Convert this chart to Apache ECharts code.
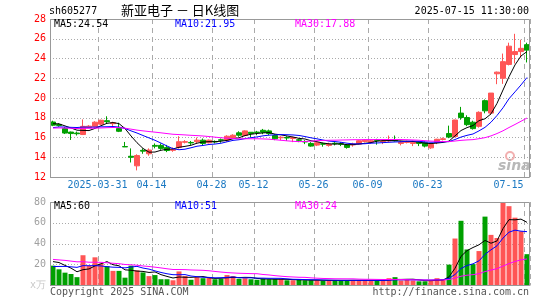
<!DOCTYPE html>
<html><head><meta charset="utf-8">
<script src="https://cdn.jsdelivr.net/npm/echarts@6/dist/echarts.min.js"></script>
<style>html,body{margin:0;padding:0;background:#fff}#c{width:545px;height:300px}</style>
</head><body><div id="c"></div>
<script>
// ---- data ----
const dates = ['2025-03-19','2025-03-20','2025-03-21','2025-03-24','2025-03-25','2025-03-26','2025-03-27','2025-03-28','2025-03-31','2025-04-01',
'2025-04-02','2025-04-03','2025-04-07','2025-04-08','2025-04-09','2025-04-10','2025-04-11','2025-04-14','2025-04-15','2025-04-16',
'2025-04-17','2025-04-18','2025-04-21','2025-04-22','2025-04-23','2025-04-24','2025-04-25','2025-04-28','2025-04-29','2025-04-30',
'2025-05-06','2025-05-07','2025-05-08','2025-05-09','2025-05-12','2025-05-13','2025-05-14','2025-05-15','2025-05-16','2025-05-19',
'2025-05-20','2025-05-21','2025-05-22','2025-05-23','2025-05-26','2025-05-27','2025-05-28','2025-05-29','2025-05-30','2025-06-03',
'2025-06-04','2025-06-05','2025-06-06','2025-06-09','2025-06-10','2025-06-11','2025-06-12','2025-06-13','2025-06-16','2025-06-17',
'2025-06-18','2025-06-19','2025-06-20','2025-06-23','2025-06-24','2025-06-25','2025-06-26','2025-06-27','2025-06-30','2025-07-01',
'2025-07-02','2025-07-03','2025-07-04','2025-07-07','2025-07-08','2025-07-09','2025-07-10','2025-07-11','2025-07-14','2025-07-15'];

const openP = [17.57,17.32,16.9,16.55,16.45,16.3,17.0,17.1,17.35,17.7,
17.4,16.9,15.08,14.1,13.13,14.7,14.35,15.2,15.2,15.0,
14.7,15.0,15.52,15.5,15.57,15.73,15.47,15.6,15.77,15.73,
16.0,16.47,16.2,16.53,16.55,16.73,16.67,16.2,15.97,16.0,
15.9,15.77,15.6,15.4,15.23,15.37,15.2,15.42,15.37,15.23,
15.25,15.33,15.6,15.53,15.75,15.6,15.65,15.72,15.4,15.5,
15.4,15.53,15.47,14.95,15.5,15.8,16.4,16.1,18.47,18.02,
17.55,17.13,19.73,18.47,22.45,22.0,23.4,24.4,24.7,25.4];

const closeP = [17.25,17.22,16.45,16.4,16.38,17.13,17.15,17.55,17.75,17.6,
17.5,16.63,15.05,14.0,14.17,14.62,14.73,15.12,14.9,14.68,
14.78,15.57,15.58,15.45,15.73,15.4,15.73,15.55,15.72,16.13,
16.23,16.23,16.67,16.4,16.5,16.53,16.4,15.87,16.03,15.95,
16.0,15.72,15.55,15.13,15.47,15.32,15.33,15.38,15.32,15.0,
15.35,15.67,15.73,15.67,15.7,15.65,15.7,15.67,15.53,15.55,
15.53,15.4,15.13,15.3,15.82,15.87,16.05,17.77,18.02,17.3,
16.9,18.55,18.7,20.5,22.62,23.68,25.25,24.7,25.03,24.85];

const lowP = [17.15,17.1,16.35,15.75,16.2,16.25,16.95,17.0,17.25,17.4,
17.1,16.55,15.05,13.47,12.67,14.35,14.15,14.9,14.75,14.52,
14.55,14.87,15.4,15.25,15.4,15.17,15.4,15.4,15.47,15.57,
15.9,16.07,16.13,16.0,16.23,16.33,16.23,15.73,15.73,15.67,
15.53,15.53,15.33,15.07,15.13,15.07,15.07,15.2,15.13,14.87,
15.07,15.27,15.5,15.4,15.27,15.33,15.53,15.6,15.2,15.4,
15.13,15.13,15.0,14.85,15.33,15.7,15.93,16.0,17.8,17.15,
16.8,17.0,18.45,18.3,21.4,21.43,23.3,23.5,24.1,23.6];

const highP = [17.7,17.45,17.05,16.6,16.6,17.83,17.25,17.65,17.8,18.15,
17.6,17.5,15.55,14.9,14.3,14.9,14.9,15.4,15.4,15.25,
15.0,16.13,15.73,15.65,16.0,15.9,15.8,15.7,15.9,16.23,
16.33,16.63,16.73,16.53,16.67,16.87,16.8,16.33,16.13,16.13,
16.07,15.87,15.73,15.53,15.6,15.47,15.47,15.53,15.53,15.33,
15.47,15.73,15.8,15.8,15.87,15.77,16.2,16.2,15.67,15.67,
15.67,15.6,15.6,15.4,15.87,16.0,17.2,17.8,19.1,18.25,
17.7,18.65,19.85,20.5,22.67,24.5,25.6,26.5,25.9,25.6];

// volume, unit: 万手
const volume = [19,15.5,12.3,11,8,29,19,27,21,18.5,
14,14,7.5,19,14.5,12.5,9,10,6,6,
5,13.5,9,5.5,8,7,7.5,6,6.5,10,
9,6.5,7,6,5.5,6.5,6,6,6,5,
5,5.5,5,5,5,4.5,5,5,5,5,
5,5,5,4.8,4.8,4.5,7,8,4.8,5.5,
4.8,4,4,5,7,5.5,20,45,62,34.5,
20.5,33,66,48.5,45.5,79.5,76,65,52,30];

// estimated closes / volumes of the 29 sessions before the window (only feed the moving averages)
const priorClose = [16.8,16.9,17.1,17.0,16.7,16.9,17.2,17.1,16.8,16.9,17.0,16.8,16.9,17.1,16.9,16.8,17.0,16.9,16.95,16.9,16.5,16.6,16.7,16.55,16.65,17.3,17.5,17.45,17.5];
const priorVolume = [30,26,32,28,25,35,27,24,30,29,26,31,28,27,33,25,29,28,30,26,14,12,15,13,12.5,20,26,24,25.5];

const tickDates = ['2025-03-31','2025-04-14','2025-04-28','2025-05-12','2025-05-26','2025-06-09','2025-06-23','2025-07-15'];
const tickLabels = ['2025-03-31','04-14','04-28','05-12','05-26','06-09','06-23','07-15'];
const priceTicks = [12,14,16,18,20,22,24,26,28];
const volumeTicks = [0,20,40,60,80];
const priceMALegend = ['MA5:24.54','MA10:21.95','MA30:17.88'];
const volumeMALegend = ['MA5:60','MA10:51','MA30:24'];

// ---- helpers ----
function movingAvg(vals, prior, n){
  const all = prior.concat(vals);
  return vals.map(function(_, i){
    const end = prior.length + i; let s = 0;
    for (let k = end - n + 1; k <= end; k++) s += all[k];
    return +(s / n).toFixed(3);
  });
}
const UP = '#ff5555', DOWN = '#00a000';
const MONO = 'DejaVu Sans Mono';
const candles = dates.map(function(_, i){ return [openP[i], closeP[i], lowP[i], highP[i]]; });
const volBars = volume.map(function(v, i){ return {value: v, itemStyle: {color: closeP[i] >= openP[i] ? UP : DOWN}}; });
const tickIdx = new Set(tickDates.map(function(d){ return dates.indexOf(d); }));
const lastTick = dates.indexOf(tickDates[tickDates.length - 1]);
const labelOf = {}; tickDates.forEach(function(d, k){ labelOf[d] = tickLabels[k]; });

const chart = echarts.init(document.getElementById('c'), null, {renderer: 'canvas'});
const dashed = {show: true, interval: function(i){ return tickIdx.has(i); }, lineStyle: {color: '#aaaaaa', width: 1, type: [5, 4]}};
const dotted = {show: true, lineStyle: {color: '#aaaaaa', width: 1, type: [1, 2]}};

function lineSeries(data, color, xi, yi){
  return {type: 'line', data: data, xAxisIndex: xi, yAxisIndex: yi, symbol: 'none', smooth: false,
    lineStyle: {color: color, width: 1}, itemStyle: {color: color}, z: 5, silent: true};
}

const option = {
  animation: false,
  backgroundColor: '#ffffff',
  grid: [
    {left: 50, width: 480, top: 19, height: 158},
    {left: 50, width: 480, top: 202, height: 83.5}
  ],
  xAxis: [
    {type: 'category', gridIndex: 0, data: dates, boundaryGap: true,
     axisLine: {show: false}, axisTick: {show: false}, splitLine: dashed,
     axisLabel: {interval: function(i){ return tickIdx.has(i); }, margin: 3,
       formatter: function(v, i){ const t = labelOf[v] || ''; return (dates.indexOf(v) === lastTick ? '{e|' : '{n|') + t + '}'; },
       rich: {
         n: {padding: [0, 7, 0, 0], color: '#1a78c2', fontFamily: MONO, fontSize: 10},
         e: {padding: [0, 37, 0, 0], color: '#1a78c2', fontFamily: MONO, fontSize: 10}
       }}},
    {type: 'category', gridIndex: 1, data: dates, boundaryGap: true,
     axisLine: {show: false}, axisTick: {show: false}, axisLabel: {show: false}, splitLine: dashed}
  ],
  yAxis: [
    {type: 'value', gridIndex: 0, min: priceTicks[0], max: priceTicks[priceTicks.length - 1], interval: 2,
     axisLine: {show: false}, axisTick: {show: false}, splitLine: dotted,
     axisLabel: {color: '#ff0000', fontFamily: MONO, fontSize: 10, margin: 4}},
    {type: 'value', gridIndex: 1, min: volumeTicks[0], max: volumeTicks[volumeTicks.length - 1], interval: 20,
     axisLine: {show: false}, axisTick: {show: false}, splitLine: dotted,
     axisLabel: {fontFamily: MONO, fontSize: 10, margin: 4,
       color: function(v){ return +v === 0 ? '#c8c8c8' : '#a0a0a0'; },
       formatter: function(v){ return v === 0 ? 'x万' : String(v); }}}
  ],
  series: [
    {type: 'candlestick', xAxisIndex: 0, yAxisIndex: 0, data: candles, barWidth: 5, z: 3,
     itemStyle: {color: UP, color0: DOWN, borderColor: UP, borderColor0: DOWN, borderWidth: 1}},
    lineSeries(movingAvg(closeP, priorClose, 5), '#000000', 0, 0),
    lineSeries(movingAvg(closeP, priorClose, 10), '#0000ff', 0, 0),
    lineSeries(movingAvg(closeP, priorClose, 30), '#ff00ff', 0, 0),
    {type: 'bar', xAxisIndex: 1, yAxisIndex: 1, data: volBars, barWidth: 5, z: 3},
    lineSeries(movingAvg(volume, priorVolume, 5), '#000000', 1, 1),
    lineSeries(movingAvg(volume, priorVolume, 10), '#0000ff', 1, 1),
    lineSeries(movingAvg(volume, priorVolume, 30), '#ff00ff', 1, 1)
  ],
  graphic: [
    {type: 'rect', z: 100, silent: true, shape: {x: 50.5, y: 19.5, width: 479, height: 158}, style: {fill: null, stroke: '#999999', lineWidth: 1}},
    {type: 'rect', z: 100, silent: true, shape: {x: 50.5, y: 202.5, width: 479, height: 83}, style: {fill: null, stroke: '#999999', lineWidth: 1}},
    {type: 'text', z: 100, x: 49, y: 11, style: {text: 'sh605277', font: '10px "DejaVu Sans Mono"', fill: '#000', verticalAlign: 'middle'}},
    {type: 'text', z: 100, x: 121, y: 10, style: {text: '新亚电子 － 日K线图', font: '13px "Noto Sans CJK SC"', fill: '#000', verticalAlign: 'middle'}},
    {type: 'text', z: 100, x: 529, y: 11, style: {text: '2025-07-15 11:30:00', font: '10px "DejaVu Sans Mono"', fill: '#000', align: 'right', verticalAlign: 'middle'}},
    {type: 'text', z: 100, x: 54, y: 24, style: {text: priceMALegend[0], font: '10px "DejaVu Sans Mono"', fill: '#000000', verticalAlign: 'middle'}},
    {type: 'text', z: 100, x: 175, y: 24, style: {text: priceMALegend[1], font: '10px "DejaVu Sans Mono"', fill: '#0000ff', verticalAlign: 'middle'}},
    {type: 'text', z: 100, x: 295, y: 24, style: {text: priceMALegend[2], font: '10px "DejaVu Sans Mono"', fill: '#ff00ff', verticalAlign: 'middle'}},
    {type: 'text', z: 100, x: 54, y: 206.5, style: {text: volumeMALegend[0], font: '10px "DejaVu Sans Mono"', fill: '#000000', verticalAlign: 'middle'}},
    {type: 'text', z: 100, x: 175, y: 206.5, style: {text: volumeMALegend[1], font: '10px "DejaVu Sans Mono"', fill: '#0000ff', verticalAlign: 'middle'}},
    {type: 'text', z: 100, x: 295, y: 206.5, style: {text: volumeMALegend[2], font: '10px "DejaVu Sans Mono"', fill: '#ff00ff', verticalAlign: 'middle'}},
    {type: 'text', z: 100, x: 50, y: 292.5, style: {text: 'Copyright 2025 SINA.COM', font: '10px "DejaVu Sans Mono"', fill: '#555555', verticalAlign: 'middle'}},
    {type: 'text', z: 100, x: 529, y: 292.5, style: {text: 'http://finance.sina.com.cn', font: '10px "DejaVu Sans Mono"', fill: '#555555', align: 'right', verticalAlign: 'middle'}},
    {type: 'circle', z: 90, silent: true, shape: {cx: 510, cy: 156, r: 4}, style: {fill: null, stroke: '#f2b0b0', lineWidth: 2}},
    {type: 'text', z: 90, x: 498, y: 166, style: {text: 'sina', font: 'italic bold 14px "DejaVu Sans"', fill: '#b8b8b8', verticalAlign: 'middle'}}
  ]
};
chart.setOption(option);
</script>
</body></html>
